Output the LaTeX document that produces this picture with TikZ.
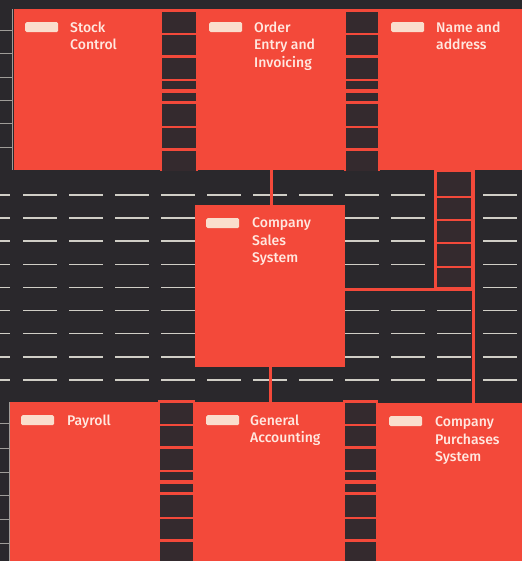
\documentclass[tikz,border=0pt]{standalone}
\usepackage{fontspec}
\setmainfont{Fira Sans}[UprightFont={* Medium}]
\definecolor{boardbg}{RGB}{42, 40, 44}
\definecolor{modred}{RGB}{243, 73, 58}
\definecolor{slotdark}{RGB}{52, 42, 46}
\definecolor{tabcream}{RGB}{250, 222, 205}
\definecolor{labelcream}{RGB}{255, 232, 224}
\definecolor{dashgrey}{RGB}{208, 206, 198}

\tikzset{
  module/.style={fill=modred, anchor=north west, inner sep=0pt},
  modtab/.style={fill=tabcream, anchor=north west, inner sep=0pt,
    minimum width=33pt, minimum height=10pt, rounded corners=1.5pt},
  modtext/.style={anchor=north west, align=left, inner sep=0pt,
    text=labelcream, font=\fontsize{14}{17.5}\selectfont},
  rowdash/.style={draw=dashgrey, line width=1.6pt},
  ruler/.style={draw=dashgrey!70!boardbg, line width=0.8pt},
  link/.style={draw=modred, line width=2.6pt},
}

% ladder of slots between two modules: x left, x right, y top
\newcommand{\ladder}[3]{%
  \fill[modred] (#1,#3) rectangle (#2,#3+162);
  \foreach \a/\b in {3/24,26/46,49/70,72/80,84/92,95/117,119/139,142/162}
    \fill[slotdark] (#1+1.8,#3+\a) rectangle (#2-1.8,#3+\b);
}

\begin{document}
\begin{tikzpicture}[x=1pt, y=-1pt]
  \useasboundingbox (0,0) rectangle (522,561);
  \fill[boardbg] (0,0) rectangle (522,561);

  % --- left ruler ---
  \draw[ruler] (12,9) -- (12,170);
  \foreach \y in {30,53,77,100,123,147}
    \draw[ruler] (0,\y) -- (12,\y);
  \draw[ruler] (9,402) -- (9,561);
  \foreach \y in {423,448,472,495,519,543}
    \draw[ruler] (0,\y) -- (9,\y);

  % --- dashed rows of the middle band ---
  \foreach \r in {0,...,8} {
    \pgfmathsetmacro\yy{195+23.1*\r}
    \draw[rowdash] (0,\yy) -- (10,\yy);
    \foreach \c in {0,...,10} {
      \pgfmathtruncatemacro\skipit{(\r==4)&&(\c>6)&&(\c<10)}
      \pgfmathsetmacro\xx{23+46*\c}
      \ifnum\skipit=0
        \draw[rowdash] (\xx,\yy) -- ++(34,0);
      \fi
    }
  }

  % --- slot ladders ---
  \ladder{160}{198}{9}
  \ladder{344}{380}{9}
  \ladder{158}{195}{400}
  \ladder{343}{378}{400}

  % --- modules ---
  \node[module, minimum width=146pt, minimum height=161pt] (stock) at (14,9) {};
  \node[module, minimum width=146pt, minimum height=161pt] (order) at (198,9) {};
  \node[module, minimum width=142pt, minimum height=161pt] (name) at (380,9) {};
  \node[module, minimum width=150pt, minimum height=162pt] (sales) at (195,205) {};
  \node[module, minimum width=148pt, minimum height=159pt] (payroll) at (10,402) {};
  \node[module, minimum width=148pt, minimum height=159pt] (genacc) at (195,402) {};
  \node[module, minimum width=144pt, minimum height=158pt] (purch) at (378,403) {};

  % --- feed ladder next to the sales system ---
  \node[module, minimum width=39pt, minimum height=119pt] (feed) at (434,170) {};
  \foreach \a/\b in {2/26,28/49,51/72,74/96,98/117}
    \fill[slotdark] ([shift={(2.5,\a)}]feed.north west) rectangle ([shift={(-2.5,\b)}]feed.north east);

  % --- connectors ---
  \draw[link] (order.south) -- (order.south |- sales.north);
  \draw[link] (sales.south) -- (sales.south |- genacc.north);
  \draw[link] (sales.east |- feed.south) -- (feed.south east);
  \draw[link] (feed.north east) -- (feed.north east |- purch.north);

  % --- tabs ---
  \foreach \m in {stock,order,name,sales,payroll,genacc,purch}
    \node[modtab] (\m Tab) at ([shift={(11,13)}]\m.north west) {};

  % --- labels ---
  \node[modtext] (stockT) at ([shift={(56,12.5)}]stock.north west) {Stock\\Control};
  \node[modtext] (orderT) at ([shift={(56,12.5)}]order.north west) {Order\\Entry and\\Invoicing};
  \node[modtext] (nameT) at ([shift={(56,12.5)}]name.north west) {Name and\\address};
  \node[modtext] (salesT) at ([shift={(57,12.5)}]sales.north west) {Company\\Sales\\System};
  \node[modtext] (payrollT) at ([shift={(57,12.5)}]payroll.north west) {Payroll};
  \node[modtext] (genaccT) at ([shift={(55,12.5)}]genacc.north west) {General\\Accounting};
  \node[modtext] (purchT) at ([shift={(57,13.5)}]purch.north west) {Company\\Purchases\\System};
\end{tikzpicture}
\end{document}
